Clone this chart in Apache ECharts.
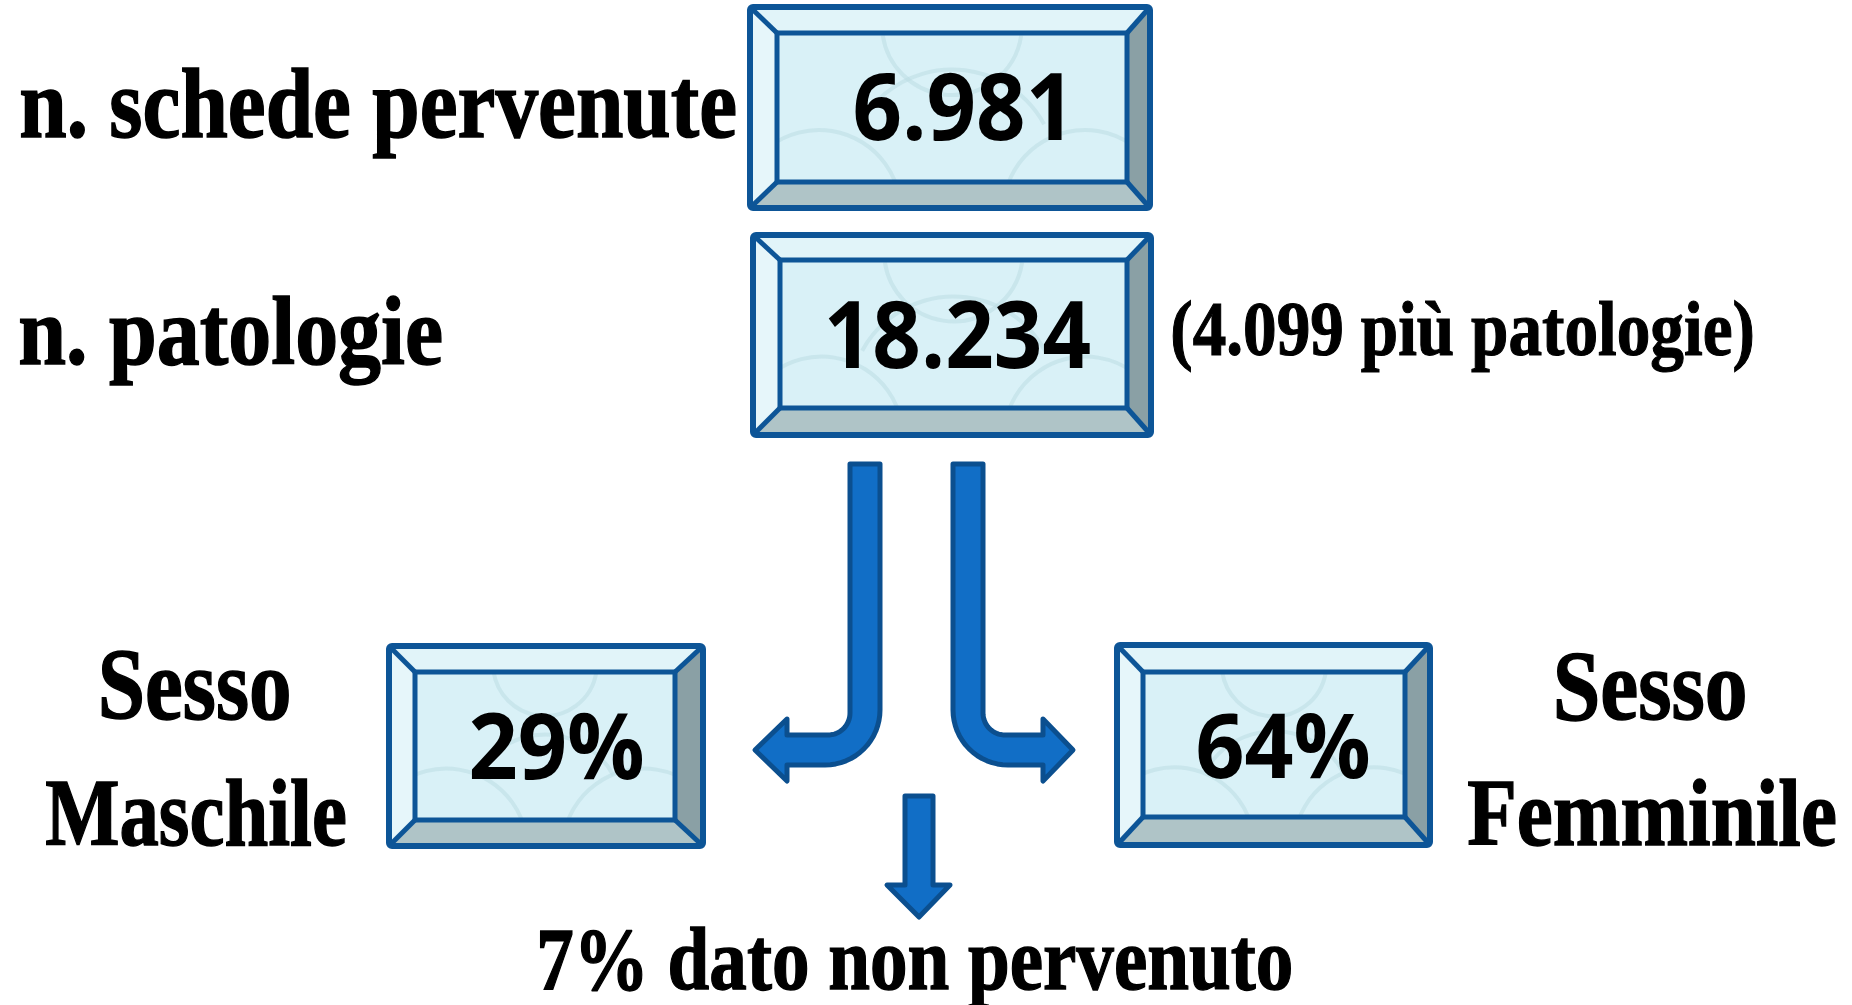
<!DOCTYPE html>
<html>
<head>
<meta charset="utf-8">
<script src="https://cdn.jsdelivr.net/npm/echarts@6/dist/echarts.min.js"></script>
<style>
  html, body { margin: 0; background: #fff; }
  #chart { width: 1852px; height: 1005px; }
</style>
</head>
<body>
<div id="chart"></div>
<script>
// dati
const rowLabels = ['n. schede pervenute', 'n. patologie'];
const rowValues = [6981, 18234];
const multiPathology = 4099;
const sexLabels = [['Sesso', 'Maschile'], ['Sesso', 'Femminile']];
const sexShares = [29, 64];
const missingShare = 7;
const missingLabel = 'dato non pervenuto';

// layout (pixel)
const boxes = [
  { outer: [750, 7, 1150, 208], inner: [777, 33, 1127, 182] },
  { outer: [753, 235, 1151, 435], inner: [780, 260, 1127, 408] },
  { outer: [389, 646, 703, 846], inner: [415, 672, 675, 820] },
  { outer: [1117, 645, 1430, 845], inner: [1143, 672, 1405, 817] }
];
const valueInk = [
  { l: 855, r: 1062, t: 72, b: 140 },
  { l: 828, r: 1090, t: 300, b: 368 },
  { l: 471, r: 643, t: 712, b: 779 },
  { l: 1198, r: 1369, t: 712, b: 778 }
];
const rowInk = [
  { l: 21, r: 735, t: 68, b: 137 },
  { l: 20, r: 441, t: 297, b: 364 }
];
const noteInk = { l: 1173, r: 1752, t: 300, b: 355 };
const sexInk = [
  [{ l: 102, r: 289, t: 652, b: 719 }, { l: 46, r: 345, t: 780, b: 845 }],
  [{ l: 1557, r: 1745, t: 653, b: 719 }, { l: 1468, r: 1835, t: 780, b: 845 }]
];
const missingInk = { l: 540, r: 1291, t: 927, b: 989 };

const LABEL_FONT = 'bold 100px "Liberation Serif"';
const VALUE_FONT = 'bold 100px "Open Sans"';
const BORDER = '#0d5597';
const ARROW_FILL = '#116ec6';
const ARROW_LINE = '#0b4f8f';

function itNum(v) {
  return v.toString().replace(/\B(?=(\d{3})+(?!\d))/g, '.');
}

const ctx = document.createElement('canvas').getContext('2d');
function fitText(text, font, box, weight) {
  ctx.font = font;
  ctx.textBaseline = 'middle';
  const m = ctx.measureText(text);
  const ref = ctx.measureText('n');
  const sx = (box.r - box.l) / (m.actualBoundingBoxLeft + m.actualBoundingBoxRight);
  const sy = (box.b - box.t) / (m.actualBoundingBoxAscent + ref.actualBoundingBoxDescent);
  const style = {
    text: text, font: font, fill: '#000',
    align: 'left', verticalAlign: 'middle',
    textAlign: 'left', textVerticalAlign: 'middle'
  };
  if (weight) {
    style.stroke = '#000';
    style.lineWidth = weight;
  }
  return {
    type: 'text',
    x: box.l + sx * m.actualBoundingBoxLeft,
    y: box.t + sy * m.actualBoundingBoxAscent,
    scaleX: sx,
    scaleY: sy,
    z: 10,
    style: style
  };
}

function boxEls(b) {
  const [x0, y0, x1, y1] = b.outer;
  const [a0, b0, a1, b1] = b.inner;
  const w = a1 - a0, h = b1 - b0, cx = (a0 + a1) / 2;
  const line = { stroke: BORDER, lineWidth: 5 };
  const deco = { fill: 'none', stroke: '#bcdde4', lineWidth: 4, opacity: 0.55 };
  return [
    { type: 'rect', shape: { x: a0, y: b0, width: w, height: h }, style: { fill: '#d9f1f7' } },
    // motivo decorativo tenue
    { type: 'arc', shape: { cx: cx, cy: b0 - 8, r: w * 0.2, startAngle: 0.15, endAngle: Math.PI - 0.15 }, style: deco },
    { type: 'arc', shape: { cx: cx, cy: b0 + h * 0.95, r: w * 0.3, startAngle: Math.PI + 0.5, endAngle: 2 * Math.PI - 0.5 }, style: deco },
    { type: 'arc', shape: { cx: a0 + w * 0.12, cy: b1 + 30, r: h * 0.55, startAngle: Math.PI * 1.3, endAngle: Math.PI * 1.95 }, style: deco },
    { type: 'arc', shape: { cx: a1 - w * 0.12, cy: b1 + 30, r: h * 0.55, startAngle: Math.PI * 1.05, endAngle: Math.PI * 1.7 }, style: deco },
    { type: 'polygon', shape: { points: [[x0, y0], [x1, y0], [a1, b0], [a0, b0]] }, style: { fill: '#e1f4f9' } },
    { type: 'polygon', shape: { points: [[x0, y0], [a0, b0], [a0, b1], [x0, y1]] }, style: { fill: '#e6f6fa' } },
    { type: 'polygon', shape: { points: [[x1, y0], [x1, y1], [a1, b1], [a1, b0]] }, style: { fill: '#8aa0a5' } },
    { type: 'polygon', shape: { points: [[x0, y1], [a0, b1], [a1, b1], [x1, y1]] }, style: { fill: '#afc4c7' } },
    { type: 'line', shape: { x1: x0, y1: y0, x2: a0, y2: b0 }, style: line },
    { type: 'line', shape: { x1: x1, y1: y0, x2: a1, y2: b0 }, style: line },
    { type: 'line', shape: { x1: x0, y1: y1, x2: a0, y2: b1 }, style: line },
    { type: 'line', shape: { x1: x1, y1: y1, x2: a1, y2: b1 }, style: line },
    { type: 'rect', shape: { x: a0, y: b0, width: w, height: h }, style: { fill: 'none', stroke: BORDER, lineWidth: 5 } },
    { type: 'rect', shape: { x: x0, y: y0, width: x1 - x0, height: y1 - y0, r: 3 }, style: { fill: 'none', stroke: BORDER, lineWidth: 6 } }
  ];
}

function arcPts(cx, cy, r, a0, a1) {
  const pts = [];
  const n = 16;
  for (let i = 0; i <= n; i++) {
    const a = a0 + (a1 - a0) * i / n;
    pts.push([cx + r * Math.cos(a), cy + r * Math.sin(a)]);
  }
  return pts;
}

const H = Math.PI / 2;
const leftArrow = [[850, 464], [850, 713]]
  .concat(arcPts(828, 713, 22, 0, H))
  .concat([[787, 735], [787, 719], [755, 750], [787, 781], [787, 765], [825, 765]])
  .concat(arcPts(825, 710, 55, H, 0))
  .concat([[880, 464]]);
const rightArrow = [[983, 464], [983, 713]]
  .concat(arcPts(1005, 713, 22, Math.PI, H))
  .concat([[1043, 735], [1043, 719], [1073, 750], [1043, 781], [1043, 765], [1008, 765]])
  .concat(arcPts(1008, 710, 55, H, Math.PI))
  .concat([[953, 464]]);
const downArrow = [[905, 796], [933, 796], [933, 885], [950, 885], [919, 917], [887, 885], [905, 885]];

const arrowStyle = { fill: ARROW_FILL, stroke: ARROW_LINE, lineWidth: 5, lineJoin: 'round' };

let elements = [];
boxes.forEach(b => { elements = elements.concat(boxEls(b)); });
[leftArrow, rightArrow, downArrow].forEach(p => {
  elements.push({ type: 'polygon', shape: { points: p }, style: arrowStyle });
});

rowLabels.forEach((t, i) => elements.push(fitText(t, LABEL_FONT, rowInk[i], 1.5)));
rowValues.forEach((v, i) => elements.push(fitText(itNum(v), VALUE_FONT, valueInk[i])));
sexShares.forEach((v, i) => elements.push(fitText(v + '%', VALUE_FONT, valueInk[i + 2])));
elements.push(fitText('(' + itNum(multiPathology) + ' più patologie)', LABEL_FONT, noteInk, 1.5));
sexLabels.forEach((pair, i) => {
  pair.forEach((t, j) => elements.push(fitText(t, LABEL_FONT, sexInk[i][j], 1.5)));
});
elements.push(fitText(missingShare + '% ' + missingLabel, LABEL_FONT, missingInk, 1.5));

const chart = echarts.init(document.getElementById('chart'));
chart.setOption({
  animation: false,
  backgroundColor: '#fff',
  graphic: { elements: elements }
});
</script>
</body>
</html>
